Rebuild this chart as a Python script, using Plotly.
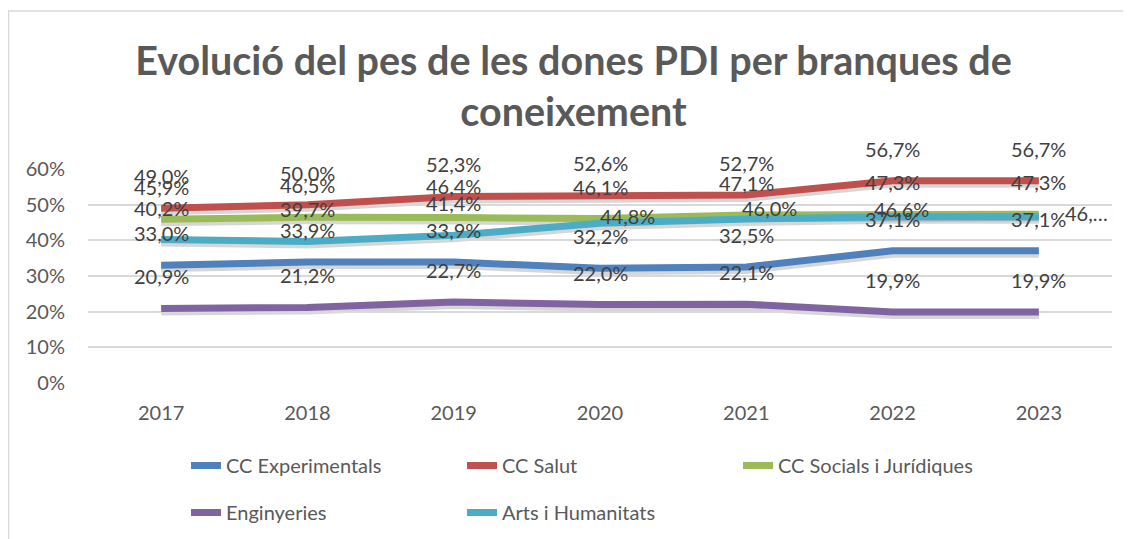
import plotly.graph_objects as go

years = [2017, 2018, 2019, 2020, 2021, 2022, 2023]

cc_experimentals = [33.0, 33.9, 33.9, 32.2, 32.5, 37.1, 37.1]
cc_salut = [49.0, 50.0, 52.3, 52.6, 52.7, 56.7, 56.7]
cc_socials = [45.9, 46.5, 46.4, 46.1, 47.1, 47.3, 47.3]
enginyeries = [20.9, 21.2, 22.7, 22.0, 22.1, 19.9, 19.9]
arts_humanitats = [40.2, 39.7, 41.4, 44.8, 46.0, 46.6, 46.6]

series = [
	('CC Experimentals', cc_experimentals, '#4F81BD'),
	('CC Salut', cc_salut, '#C0504D'),
	('CC Socials i Jurídiques', cc_socials, '#9BBB59'),
	('Enginyeries', enginyeries, '#8064A2'),
	('Arts i Humanitats', arts_humanitats, '#4BACC6'),
]

# where excel pushed some labels sideways to avoid overlaps (px shifts)
label_shifts = {
	('Arts i Humanitats', 2020): (27, 7),
	('Arts i Humanitats', 2021): (23, 11),
	('Arts i Humanitats', 2022): (9, 8),
	('Arts i Humanitats', 2023): (48, 4),
}

FONT = 'Lato'
GREY = '#595959'

W, H = 1131, 539
# the page body adds an 8px margin, so figure coords = page coords - 8
L, R = 80, 1104
TOP, ZERO = 161, 375
SH = 3  # shadow offset in px
plot_h = ZERO + SH - TOP
d = SH / plot_h


def px_x(p):
	return (p - L) / (R - L)


def px_y(p):
	return (ZERO + SH - p) / plot_h


fig = go.Figure()

# soft shadow under each line (drawn first, on its own shifted axis)
for name, vals, color in series:
	fig.add_trace(go.Scatter(
		x=years, y=vals, mode='lines',
		line=dict(color='rgba(0,0,0,0.16)', width=8),
		xaxis='x', yaxis='y', showlegend=False, hoverinfo='skip'
	))

for name, vals, color in series:
	fig.add_trace(go.Scatter(
		x=years, y=vals, mode='lines', name=name, legendgroup=name,
		line=dict(color=color, width=7),
		xaxis='x', yaxis='y2'
	))

annotations = []
for name, vals, color in series:
	for yr, v in zip(years, vals):
		txt = f'{v:.1f}'.replace('.', ',') + '%'
		dx, dy = label_shifts.get((name, yr), (0, 32))
		if name == 'Arts i Humanitats' and yr == 2023:
			txt = '46,…'
		annotations.append(dict(
			x=yr, y=v, xref='x', yref='y2', text=txt, showarrow=False,
			xshift=dx, yshift=dy,
			font=dict(family=FONT, size=20, color='#404040')
		))

fig.update_layout(
	width=W, height=H,
	margin=dict(l=L, r=W - R, t=TOP, b=H - ZERO - SH, pad=0, autoexpand=False),
	paper_bgcolor='white', plot_bgcolor='rgba(0,0,0,0)',
	font=dict(family=FONT, size=20, color=GREY),
	title=dict(
		text='Evolució del pes de les dones PDI per branques de<br>coneixement',
		x=0.5, xanchor='center', y=1 - 67 / H, yanchor='top', yref='container',
		font=dict(family=FONT, size=39.5, color=GREY, weight='bold')
	),
	xaxis=dict(
		range=[2016.5, 2023.5], tickvals=years, tickformat='d',
		showgrid=False, zeroline=False, showline=False, ticks='',
		ticklabelstandoff=16, tickfont=dict(size=20, color=GREY), anchor='y2'
	),
	yaxis=dict(
		domain=[0, 1 - d], range=[0, 60], visible=False, fixedrange=True
	),
	yaxis2=dict(
		domain=[d, 1], range=[0, 60], anchor='x', dtick=10, ticksuffix='%',
		showgrid=True, gridcolor='#D9D9D9', gridwidth=1.5, zeroline=False,
		showline=False, ticks='', ticklabelstandoff=22,
		tickfont=dict(size=20, color=GREY)
	),
	legend=dict(
		orientation='h', x=px_x(178), xanchor='left',
		y=px_y(438), yanchor='top',
		entrywidth=231, entrywidthmode='pixels', tracegroupgap=18,
		font=dict(size=20, color=GREY), bgcolor='rgba(0,0,0,0)'
	),
	annotations=annotations,
	shapes=[dict(
		type='rect', xref='paper', yref='paper', layer='below',
		x0=px_x(0.5), x1=px_x(1160),
		y0=px_y(560), y1=px_y(3),
		line=dict(color='#D9D9D9', width=1.5)
	)],
	showlegend=True
)

fig.write_html('out.html')
